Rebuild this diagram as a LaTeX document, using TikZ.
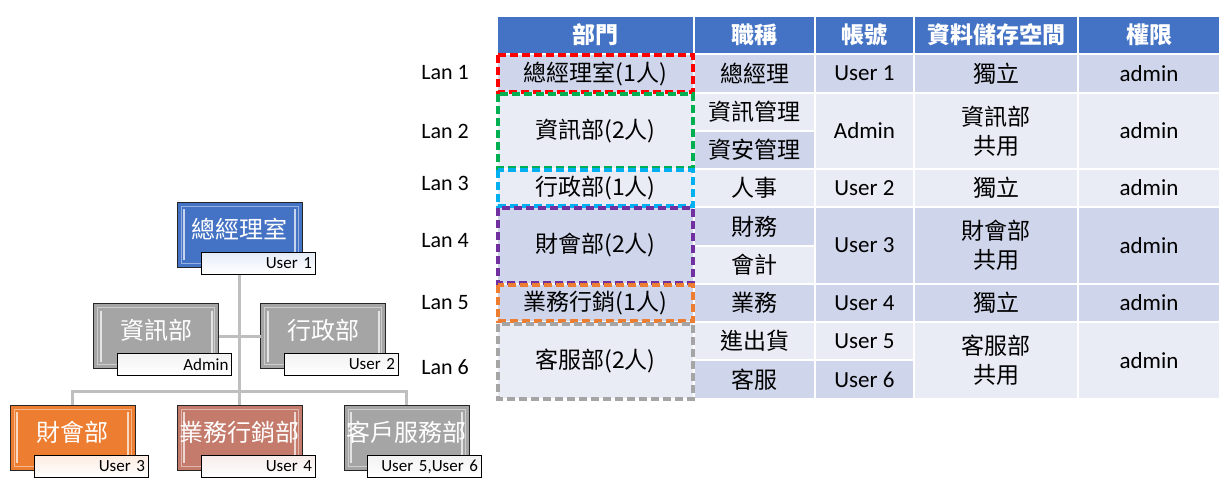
\documentclass[tikz,border=0pt]{standalone}
\usepackage{fontspec}
\setmainfont{Carlito}
\newfontfamily\cjk{Noto Sans CJK TC}
\definecolor{hdr}{HTML}{4472C4}
\definecolor{dk}{HTML}{CFD5EA}
\definecolor{lt}{HTML}{E9EBF5}
\definecolor{orgblue}{HTML}{4472C4}
\definecolor{orggray}{HTML}{A5A5A5}
\definecolor{orgorange}{HTML}{ED7D31}
\definecolor{orgrose}{HTML}{C47B6C}
\definecolor{conncol}{HTML}{BFBFBF}
\definecolor{dred}{HTML}{FF0000}
\definecolor{dgreen}{HTML}{00B050}
\definecolor{dcyan}{HTML}{00B0F0}
\definecolor{dpurple}{HTML}{7030A0}
\definecolor{dorange}{HTML}{ED7D31}
\definecolor{dgray}{HTML}{A5A5A5}
\newcommand\tabfnt{\fontsize{23}{29}\selectfont}
\newcommand\tcell[7]{%
  \node[tcellbase,#6,minimum width={#4-#2-2},minimum height={#5-#3-2}] (#1) at ({(#2+#4)/2},{(#3+#5)/2}) {#7};}
\newcommand\bevel[2]{%
  \draw[#2!55!white, line width=1pt] ([shift={(4,4)}]#1.north west) rectangle ([shift={(-4,-4)}]#1.south east);
  \draw[white, opacity=0.7, line width=2pt] ([shift={(7,7)}]#1.north west) -- ([shift={(7,-7)}]#1.south west);
  \draw[white, opacity=0.7, line width=2pt] ([shift={(-7,7)}]#1.north east) -- ([shift={(-7,-7)}]#1.south east);}
\tikzset{
  tcellbase/.style={inner sep=0pt, outer sep=0pt, align=center, font=\tabfnt, text=black},
  cj/.style={font=\cjk\tabfnt},
  hdrcell/.style={fill=hdr, text=white, font=\cjk\bfseries\tabfnt},
  dkc/.style={fill=dk},
  ltc/.style={fill=lt},
  dbox/.style={line width=3.2pt, dash pattern=on 8pt off 4pt},
  lanlab/.style={font=\fontsize{22}{26}\selectfont, inner sep=0pt},
  orgbox/.style={draw=black!85, line width=0.8pt, fill=#1, minimum width=125pt, minimum height=65pt, inner sep=0pt, outer sep=0pt},
  userlab/.style={draw=black, line width=0.8pt, top color=#1!14!white, bottom color=white, minimum width=114pt, minimum height=22pt, inner sep=0pt, outer sep=0pt, text width=108pt, align=right, font=\fontsize{17}{19}\selectfont},
  orgtext/.style={text=white, font=\cjk\fontsize{24}{28}\selectfont, inner sep=0pt},
  conn/.style={draw=conncol, line width=3pt},
}
\begin{document}
\begin{tikzpicture}[x=1pt,y=-1pt]
\useasboundingbox (0,0) rectangle (1229,488);
\fill[white] (0,0) rectangle (1229,488);

% ---------- table ----------
% header
\tcell{h0}{497}{16}{694}{54}{hdrcell}{部門}
\tcell{h1}{694}{16}{815}{54}{hdrcell}{職稱}
\tcell{h2}{815}{16}{914}{54}{hdrcell}{帳號}
\tcell{h3}{914}{16}{1078}{54}{hdrcell}{資料儲存空間}
\tcell{h4}{1078}{16}{1220}{54}{hdrcell}{權限}
% Lan 1
\tcell{a0}{497}{54}{694}{93}{dkc,cj}{總經理室(1人)}
\tcell{a1}{694}{54}{815}{93}{dkc,cj}{總經理}
\tcell{a2}{815}{54}{914}{93}{dkc}{User 1}
\tcell{a3}{914}{54}{1078}{93}{dkc,cj}{獨立}
\tcell{a4}{1078}{54}{1220}{93}{dkc}{admin}
% Lan 2
\tcell{b0}{497}{93}{694}{169}{ltc,cj}{資訊部(2人)}
\tcell{b1}{694}{93}{815}{131}{ltc,cj}{資訊管理}
\tcell{b1b}{694}{131}{815}{169}{dkc,cj}{資安管理}
\tcell{b2}{815}{93}{914}{169}{ltc}{Admin}
\tcell{b3}{914}{93}{1078}{169}{ltc,cj}{資訊部\\共用}
\tcell{b4}{1078}{93}{1220}{169}{ltc}{admin}
% Lan 3
\tcell{c0}{497}{169}{694}{207}{ltc,cj}{行政部(1人)}
\tcell{c1}{694}{169}{815}{207}{ltc,cj}{人事}
\tcell{c2}{815}{169}{914}{207}{ltc}{User 2}
\tcell{c3}{914}{169}{1078}{207}{ltc,cj}{獨立}
\tcell{c4}{1078}{169}{1220}{207}{ltc}{admin}
% Lan 4
\tcell{d0}{497}{207}{694}{284}{dkc,cj}{財會部(2人)}
\tcell{d1}{694}{207}{815}{246}{dkc,cj}{財務}
\tcell{d1b}{694}{246}{815}{284}{ltc,cj}{會計}
\tcell{d2}{815}{207}{914}{284}{dkc}{User 3}
\tcell{d3}{914}{207}{1078}{284}{dkc,cj}{財會部\\共用}
\tcell{d4}{1078}{207}{1220}{284}{dkc}{admin}
% Lan 5
\tcell{e0}{497}{284}{694}{322}{dkc,cj}{業務行銷(1人)}
\tcell{e1}{694}{284}{815}{322}{dkc,cj}{業務}
\tcell{e2}{815}{284}{914}{322}{dkc}{User 4}
\tcell{e3}{914}{284}{1078}{322}{dkc,cj}{獨立}
\tcell{e4}{1078}{284}{1220}{322}{dkc}{admin}
% Lan 6
\tcell{f0}{497}{322}{694}{399}{ltc,cj}{客服部(2人)}
\tcell{f1}{694}{322}{815}{360}{ltc,cj}{進出貨}
\tcell{f1b}{694}{360}{815}{399}{dkc,cj}{客服}
\tcell{f2}{815}{322}{914}{360}{ltc}{User 5}
\tcell{f2b}{815}{360}{914}{399}{dkc}{User 6}
\tcell{f3}{914}{322}{1078}{399}{ltc,cj}{客服部\\共用}
\tcell{f4}{1078}{322}{1220}{399}{ltc}{admin}

% dashed frames
\draw[dbox,dred]    (a0.north west) rectangle (a0.south east);
\draw[dbox,dgreen]  (b0.north west) rectangle (b0.south east);
\draw[dbox,dcyan]   (c0.north west) rectangle (c0.south east);
\draw[dbox,dpurple] (d0.north west) rectangle (d0.south east);
\draw[dbox,dorange] (e0.north west) rectangle (e0.south east);
\draw[dbox,dgray]   ([yshift=-1pt]f0.north west) rectangle ([yshift=-1pt]f0.south east);

% Lan labels
\node[lanlab] (lan1) at (445,72) {Lan 1};
\node[lanlab] (lan2) at (445,131) {Lan 2};
\node[lanlab] (lan3) at (445,183) {Lan 3};
\node[lanlab] (lan4) at (445,241) {Lan 4};
\node[lanlab] (lan5) at (445,303) {Lan 5};
\node[lanlab] (lan6) at (445,367) {Lan 6};

% ---------- org chart ----------
\node[orgbox=orgblue]   (ceo)   at (239.5,234.5) {};
\node[orgbox=orggray]   (it)    at (156,336)     {};
\node[orgbox=orggray]   (adm)   at (323,336)     {};
\node[orgbox=orgorange] (fin)   at (72.5,437.5)  {};
\node[orgbox=orgrose]   (sales) at (239.5,437.5) {};
\node[orgbox=orggray]   (cs)    at (406.5,437.5) {};

\draw[conn] (ceo.south) -- (sales.north);
\draw[conn] (it.east) -- (adm.west);
\draw[conn] (fin.north) -- ++(0,-14) -| (cs.north);

\bevel{ceo}{orgblue}
\bevel{it}{orggray}
\bevel{adm}{orggray}
\bevel{fin}{orgorange}
\bevel{sales}{orgrose}
\bevel{cs}{orggray}

\node[orgtext] (ceot)   at ([yshift=-27pt]ceo.north)   {總經理室};
\node[orgtext] (itt)    at ([yshift=-27pt]it.north)    {資訊部};
\node[orgtext] (admt)   at ([yshift=-27pt]adm.north)   {行政部};
\node[orgtext] (fint)   at ([yshift=-27pt]fin.north)   {財會部};
\node[orgtext] (salest) at ([yshift=-27pt]sales.north) {業務行銷部};
\node[orgtext] (cst)    at ([yshift=-27pt]cs.north)    {客戶服務部};

\node[userlab=orgblue]   (ceol)   at (258,263)     {User 1};
\node[userlab=orggray]   (itl)    at (174.5,364.5) {Admin};
\node[userlab=orggray]   (adml)   at (341,364.5)   {User 2};
\node[userlab=orgorange] (finl)   at (91,466.5)    {User 3};
\node[userlab=orgrose]   (salesl) at (258,466.5)   {User 4};
\node[userlab=orggray]   (csl)    at (424,466.5)   {User 5,User 6};
\end{tikzpicture}
\end{document}
